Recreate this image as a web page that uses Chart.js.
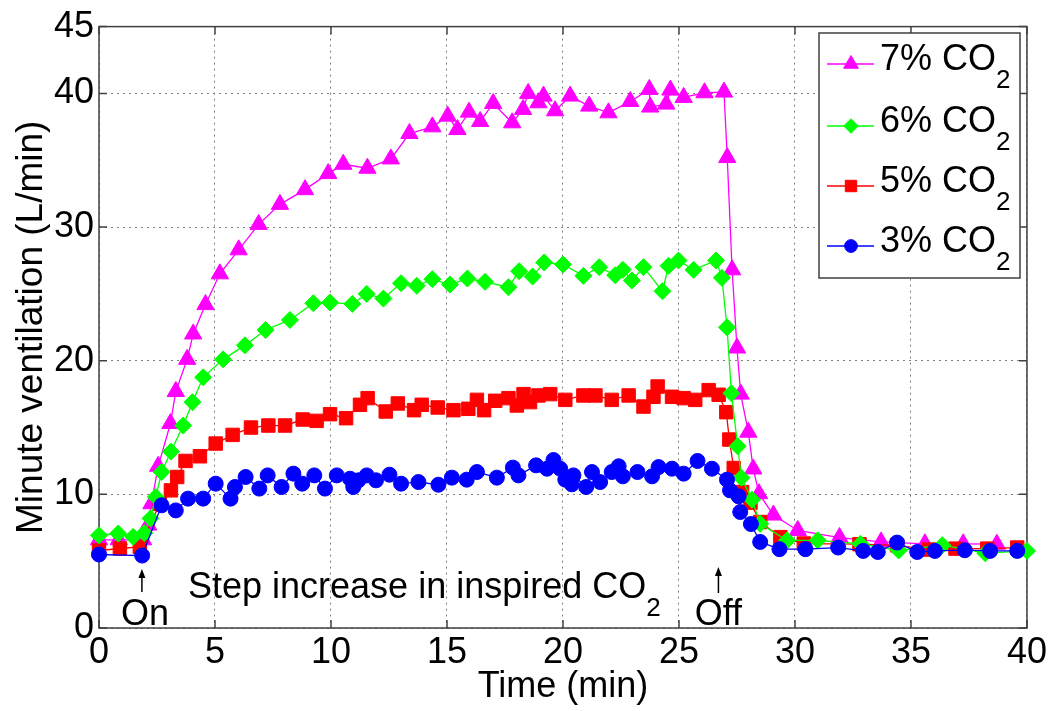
<!DOCTYPE html>
<html>
<head>
<meta charset="utf-8">
<title>Minute ventilation</title>
<script src="https://cdn.jsdelivr.net/npm/chart.js@4.4.0/dist/chart.umd.min.js"></script>
<style>
body{margin:0;background:#fff;}
</style>
</head>
<body>
<canvas id="ventChart" width="1050" height="711"></canvas>
<script>
// time (min) and minute ventilation (L/min), one pair of arrays per CO2 level
const time7 = [0, 0.85, 1.9, 2.12, 2.26, 2.55, 3.08, 3.31, 3.8, 4.06, 4.59, 5.21, 6.02, 6.88, 7.8, 8.88, 9.88, 10.53, 11.57, 12.58, 13.38, 14.37, 15.03, 15.45, 15.95, 16.43, 16.99, 17.81, 18.28, 18.5, 18.94, 19.16, 19.66, 20.31, 21.13, 21.96, 22.9, 23.72, 23.76, 24.45, 24.63, 25.2, 26.1, 26.94, 27.08, 27.29, 27.5, 27.66, 27.99, 28.2, 28.45, 29.07, 30.12, 31.92, 33.71, 35.6, 37.25, 38.7];
const vent7 = [6.6, 6.6, 6.6, 7.7, 9.3, 12.1, 15.3, 17.7, 20.1, 22.0, 24.2, 26.5, 28.3, 30.2, 31.7, 32.8, 34.0, 34.7, 34.4, 35.1, 37.0, 37.5, 38.3, 37.3, 38.6, 37.9, 39.25, 37.8, 38.8, 40.0, 39.3, 39.8, 38.7, 39.8, 39.05, 38.55, 39.4, 40.3, 38.98, 39.2, 40.25, 39.7, 40.05, 40.1, 35.2, 26.8, 20.95, 17.5, 14.65, 11.9, 10.05, 8.45, 7.3, 6.77, 6.44, 6.3, 6.3, 6.27];

const time6 = [0, 0.83, 1.47, 1.95, 2.22, 2.45, 2.7, 3.1, 3.63, 4.03, 4.49, 5.35, 6.29, 7.18, 8.23, 9.24, 9.96, 10.92, 11.54, 12.26, 13.02, 13.7, 14.37, 15.13, 15.88, 16.64, 17.65, 18.11, 18.69, 19.19, 20.0, 20.88, 21.56, 22.25, 22.58, 22.97, 23.47, 24.29, 24.55, 24.98, 25.63, 26.6, 26.85, 27.07, 27.26, 27.53, 27.69, 28.15, 28.5, 29.66, 30.98, 32.82, 34.47, 36.35, 38.2, 40];
const vent6 = [6.94, 7.07, 6.82, 7.1, 8.2, 9.8, 11.67, 13.2, 15.15, 16.9, 18.76, 20.1, 21.15, 22.3, 23.05, 24.3, 24.35, 24.25, 25.0, 24.65, 25.8, 25.6, 26.1, 25.7, 26.15, 25.9, 25.5, 26.7, 26.3, 27.35, 27.2, 26.35, 27.0, 26.4, 26.8, 26.0, 27.0, 25.2, 27.1, 27.5, 26.8, 27.5, 26.2, 22.5, 17.56, 13.6, 11.25, 9.6, 7.8, 6.56, 6.56, 6.3, 5.8, 6.2, 5.6, 5.77];

const time5 = [0, 0.9, 1.76, 2.62, 3.1, 3.37, 3.73, 4.35, 5.03, 5.76, 6.55, 7.3, 8.02, 8.78, 9.38, 9.96, 10.65, 11.25, 11.58, 12.36, 12.88, 13.58, 13.91, 14.6, 15.28, 15.92, 16.29, 16.6, 17.08, 17.65, 18.01, 18.3, 18.58, 18.94, 19.45, 20.1, 20.88, 21.4, 22.1, 22.83, 23.47, 23.9, 24.08, 24.7, 25.2, 25.7, 26.28, 26.71, 27.04, 27.17, 27.36, 27.72, 28.08, 28.5, 29.37, 30.38, 32.78, 34.4, 35.77, 36.92, 38.29, 39.58];
const vent5 = [5.8, 5.95, 6.07, 9.3, 10.3, 11.3, 12.5, 12.85, 13.8, 14.45, 15.0, 15.15, 15.15, 15.6, 15.5, 16.0, 15.7, 16.7, 17.2, 16.2, 16.8, 16.3, 16.7, 16.5, 16.3, 16.4, 17.07, 16.3, 17.0, 17.2, 16.65, 17.5, 16.9, 17.4, 17.5, 17.07, 17.4, 17.4, 17.07, 17.4, 16.57, 17.3, 18.07, 17.3, 17.2, 17.07, 17.8, 17.45, 16.15, 14.1, 11.97, 10.17, 9.38, 7.93, 6.8, 6.32, 6.27, 6.19, 5.87, 5.94, 5.94, 6.02];

const time3 = [0, 1.86, 2.7, 3.31, 3.84, 4.49, 5.03, 5.67, 5.86, 6.32, 6.91, 7.27, 7.87, 8.38, 8.76, 9.28, 9.74, 10.25, 10.82, 10.96, 11.18, 11.54, 11.94, 12.52, 13.02, 13.77, 14.63, 15.21, 15.85, 16.29, 17.15, 17.84, 18.08, 18.84, 19.31, 19.59, 19.88, 20.1, 20.38, 20.45, 21.0, 21.25, 21.6, 22.1, 22.4, 22.58, 23.21, 23.84, 24.12, 24.7, 25.2, 25.8, 26.42, 27.07, 27.2, 27.57, 27.64, 28.1, 28.5, 29.33, 30.45, 31.86, 32.94, 33.57, 34.4, 35.27, 36.03, 37.32, 38.41, 39.58];
const vent3 = [5.5, 5.42, 9.18, 8.8, 9.68, 9.68, 10.8, 9.68, 10.55, 11.3, 10.43, 11.42, 10.55, 11.55, 10.8, 11.42, 10.43, 11.42, 11.17, 10.55, 11.05, 11.42, 11.05, 11.47, 10.8, 10.92, 10.72, 11.25, 11.1, 11.67, 11.25, 12.0, 11.42, 12.17, 11.92, 12.57, 11.92, 11.1, 10.75, 11.42, 10.55, 11.67, 10.92, 11.67, 12.1, 11.35, 11.67, 11.35, 12.04, 11.92, 11.55, 12.5, 11.92, 11.1, 10.3, 9.85, 8.68, 7.78, 6.44, 5.9, 5.9, 6.02, 5.77, 5.69, 6.39, 5.69, 5.77, 5.82, 5.77, 5.77];

const levels = ["7%", "6%", "5%", "3%"];
const xTicks = [0, 5, 10, 15, 20, 25, 30, 35, 40];
const yTicks = [0, 10, 20, 30, 40, 45];
const onTime = 1.85;
const offTime = 26.7;

const FONT = '"Liberation Sans", Arial, sans-serif';

function pts(t, v){
  return t.map((x, i) => ({x: x, y: v[i]}));
}

function series(label, t, v, color, style, r, order){
  return {
    label: label,
    data: pts(t, v),
    showLine: true,
    borderColor: color,
    backgroundColor: color,
    borderWidth: 1.3,
    pointStyle: style,
    pointRadius: r,
    pointBorderWidth: 1,
    pointBorderColor: color,
    pointBackgroundColor: color,
    order: order,
    clip: 12
  };
}

// text with a lowered "2"
function textSub(ctx, x, y, main, sub, size, align){
  ctx.font = size + "px " + FONT;
  let w = ctx.measureText(main).width;
  ctx.font = "26px " + FONT;
  let ws = ctx.measureText(sub).width;
  let x0 = x;
  if(align === "center") x0 = x - (w + ws) / 2;
  ctx.textAlign = "left";
  ctx.font = size + "px " + FONT;
  ctx.fillText(main, x0, y);
  ctx.font = "26px " + FONT;
  ctx.fillText(sub, x0 + w, y + 18);
}

function arrowUp(ctx, x, yBottom, yTop){
  ctx.beginPath();
  ctx.moveTo(x, yBottom);
  ctx.lineTo(x, yTop + 6);
  ctx.stroke();
  ctx.beginPath();
  ctx.moveTo(x, yTop);
  ctx.lineTo(x - 3.5, yTop + 9);
  ctx.lineTo(x + 3.5, yTop + 9);
  ctx.closePath();
  ctx.fill();
}

const frame = {
  id: "frame",
  beforeDatasetsDraw(chart){
    const ctx = chart.ctx;
    const a = chart.chartArea;
    const sx = chart.scales.x, sy = chart.scales.y;
    ctx.save();
    ctx.strokeStyle = "#404040";
    ctx.lineWidth = 1.5;
    ctx.strokeRect(a.left, a.top, a.right - a.left, a.bottom - a.top);
    ctx.beginPath();
    xTicks.forEach(v => {
      let p = sx.getPixelForValue(v);
      ctx.moveTo(p, a.bottom); ctx.lineTo(p, a.bottom - 8);
      ctx.moveTo(p, a.top); ctx.lineTo(p, a.top + 8);
    });
    yTicks.forEach(v => {
      let p = sy.getPixelForValue(v);
      ctx.moveTo(a.left, p); ctx.lineTo(a.left + 8, p);
      ctx.moveTo(a.right, p); ctx.lineTo(a.right - 8, p);
    });
    ctx.stroke();
    ctx.restore();
  },
  afterDraw(chart){
    const ctx = chart.ctx;
    const a = chart.chartArea;
    const sx = chart.scales.x;
    ctx.save();
    ctx.fillStyle = "#000";
    ctx.strokeStyle = "#000";
    ctx.lineWidth = 1.5;
    ctx.textBaseline = "alphabetic";

    // axis titles
    ctx.font = "36px " + FONT;
    ctx.textAlign = "center";
    ctx.fillText("Time (min)", (a.left + a.right) / 2, 697);
    ctx.save();
    ctx.translate(42, (a.top + a.bottom) / 2);
    ctx.rotate(-Math.PI / 2);
    ctx.font = "37px " + FONT;
    ctx.fillText("Minute ventilation (L/min)", 0, 0);
    ctx.restore();

    // annotations
    textSub(ctx, 188, 598, "Step increase in inspired CO", "2", 36, "left");
    let xOn = sx.getPixelForValue(onTime);
    let xOff = sx.getPixelForValue(offTime);
    ctx.font = "36px " + FONT;
    ctx.textAlign = "center";
    ctx.fillText("On", xOn + 3, 625);
    ctx.fillText("Off", xOff, 625);
    arrowUp(ctx, xOn, 592, 569);
    arrowUp(ctx, xOff, 593, 567);

    // legend
    const lx = 819, ly = 33, lw = 201, lh = 245;
    ctx.fillStyle = "#fff";
    ctx.fillRect(lx, ly, lw, lh);
    ctx.strokeStyle = "#404040";
    ctx.strokeRect(lx, ly, lw, lh);
    const rows = [64, 126, 186, 246];
    chart.data.datasets.forEach((ds, i) => {
      let y = rows[i];
      ctx.strokeStyle = ds.borderColor;
      ctx.lineWidth = 1.5;
      ctx.beginPath();
      ctx.moveTo(827, y); ctx.lineTo(874, y);
      ctx.stroke();
      ctx.fillStyle = ds.backgroundColor;
      ctx.strokeStyle = ds.borderColor;
      ctx.lineWidth = 1;
      Chart.helpers.drawPoint(ctx, {pointStyle: ds.pointStyle, radius: ds.pointRadius * 0.85, borderWidth: 1}, 851, y);
      ctx.fillStyle = "#000";
      textSub(ctx, 880, y + 6, levels[i] + " CO", "2", 36, "left");
    });
    ctx.restore();
  }
};

new Chart(document.getElementById("ventChart"), {
  type: "scatter",
  data: {
    datasets: [
      series("7% CO2", time7, vent7, "#ff00ff", "triangle", 10, 4),
      series("6% CO2", time6, vent6, "#00ff00", "rectRot", 8.5, 2),
      series("5% CO2", time5, vent5, "#ff0000", "rect", 9.5, 3),
      series("3% CO2", time3, vent3, "#0000ff", "circle", 7.5, 1)
    ]
  },
  options: {
    responsive: false,
    animation: false,
    devicePixelRatio: 1,
    layout: {padding: {top: 25, right: 23, left: 0, bottom: 0}},
    plugins: {legend: {display: false}, tooltip: {enabled: false}},
    scales: {
      x: {
        type: "linear",
        min: 0, max: 40,
        afterBuildTicks: s => { s.ticks = xTicks.map(v => ({value: v})); },
        afterFit: s => { s.height = 83; },
        grid: {color: "#808080", lineWidth: 1, drawTicks: false},
        border: {display: false, dash: [2, 4]},
        ticks: {font: {family: FONT, size: 36}, color: "#000", padding: 3, maxRotation: 0}
      },
      y: {
        type: "linear",
        min: 0, max: 45,
        afterBuildTicks: s => { s.ticks = yTicks.map(v => ({value: v})); },
        afterFit: s => { s.width = 99; },
        grid: {color: "#808080", lineWidth: 1, drawTicks: false},
        border: {display: false, dash: [2, 4]},
        ticks: {font: {family: FONT, size: 36}, color: "#000", padding: 5}
      }
    }
  },
  plugins: [frame]
});
</script>
</body>
</html>
